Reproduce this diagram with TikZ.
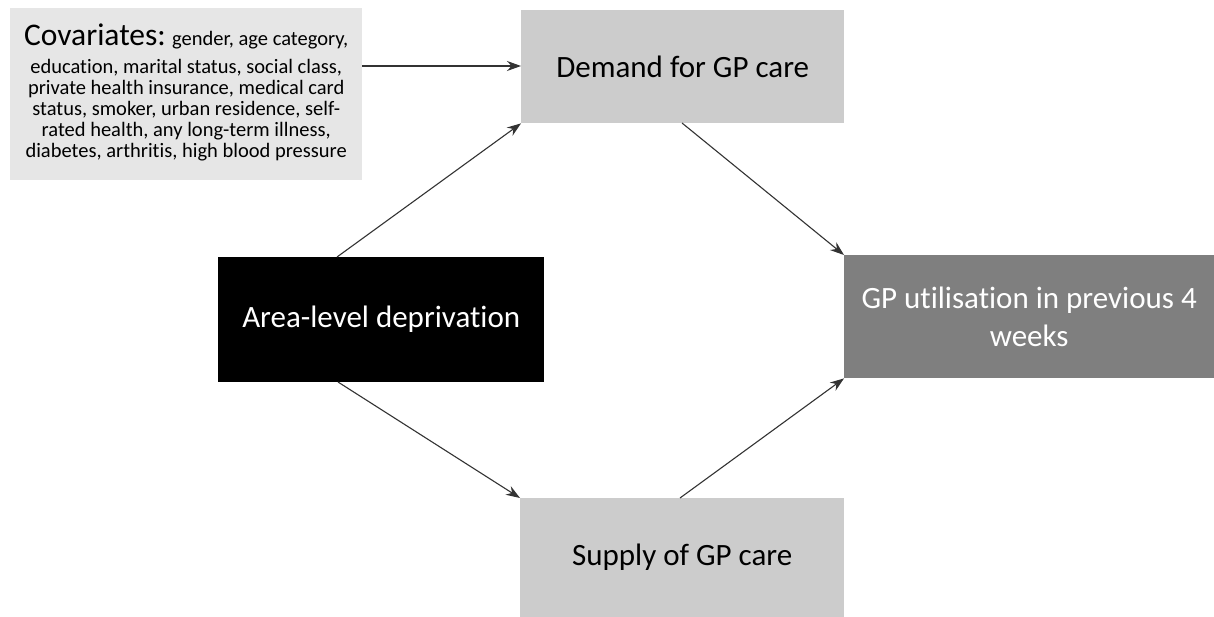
\documentclass[tikz,border=0pt]{standalone}
\usepackage{fontspec}
\setmainfont{Carlito}[RawFeature=-liga]
\usetikzlibrary{arrows.meta}
\definecolor{covfill}{HTML}{E6E6E6}
\definecolor{lightbox}{HTML}{CCCCCC}
\definecolor{darkbox}{HTML}{7F7F7F}
\definecolor{arrowcol}{HTML}{333333}
\begin{document}
\begin{tikzpicture}[x=1pt,y=-1pt,
  box/.style={draw=none, inner sep=0pt, anchor=north west, align=center},
  conn/.style={draw=arrowcol, line width=1.1pt, -{Stealth[length=14pt,width=10pt]}},
  bigtxt/.style={font=\fontsize{31}{37}\selectfont}]
\useasboundingbox (0,0) rectangle (1214,617);
\fill[white] (0,0) rectangle (1214,617);
% boxes
\node[box, fill=covfill, minimum width=352pt, minimum height=172pt] (cov) at (10,8) {};
\node[box, fill=lightbox, minimum width=323pt, minimum height=113pt] (dem) at (521,10) {};
\node[box, fill=black, minimum width=326pt, minimum height=125pt] (area) at (218,257) {};
\node[box, fill=darkbox, minimum width=370pt, minimum height=123pt] (gp) at (844,255) {};
\node[box, fill=lightbox, minimum width=324pt, minimum height=119pt] (sup) at (520,498) {};
% texts
\node[align=center, inner sep=0pt, font=\fontsize{20.5}{21}\selectfont] (covtxt) at ([yshift=1.6pt]cov.center)
 {{\fontsize{31.5}{31.5}\selectfont Covariates:} gender, age category,\\[6.7pt]
  education, marital status, social class,\\
  private health insurance, medical card\\
  status, smoker, urban residence, self-\\
  rated health, any long-term illness,\\
  diabetes, arthritis, high blood pressure};
\node[bigtxt, inner sep=0pt] (demtxt) at (dem.center) {Demand for GP care};
\node[bigtxt, inner sep=0pt, text=white] (areatxt) at (area.center) {Area-level deprivation};
\node[inner sep=0pt, text=white, align=center, font=\fontsize{31}{38}\selectfont] (gptxt) at (gp.center) {GP utilisation in previous 4\\weeks};
\node[bigtxt, inner sep=0pt] (suptxt) at (sup.center) {Supply of GP care};
% connector anchors
\coordinate (covout) at (cov.east |- 0,66);
\coordinate (demin) at (dem.west |- 0,66);
\coordinate (areaTop) at (337,257);
\coordinate (areaBot) at (338,382);
\coordinate (demBot) at (682,123);
\coordinate (supTop) at (680,498);
% connectors
\draw[conn] (covout) -- (demin);
\draw[conn] (areaTop) -- (dem.south west);
\draw[conn] (demBot) -- (gp.north west);
\draw[conn] (areaBot) -- (sup.north west);
\draw[conn] (supTop) -- (gp.south west);
\end{tikzpicture}
\end{document}
